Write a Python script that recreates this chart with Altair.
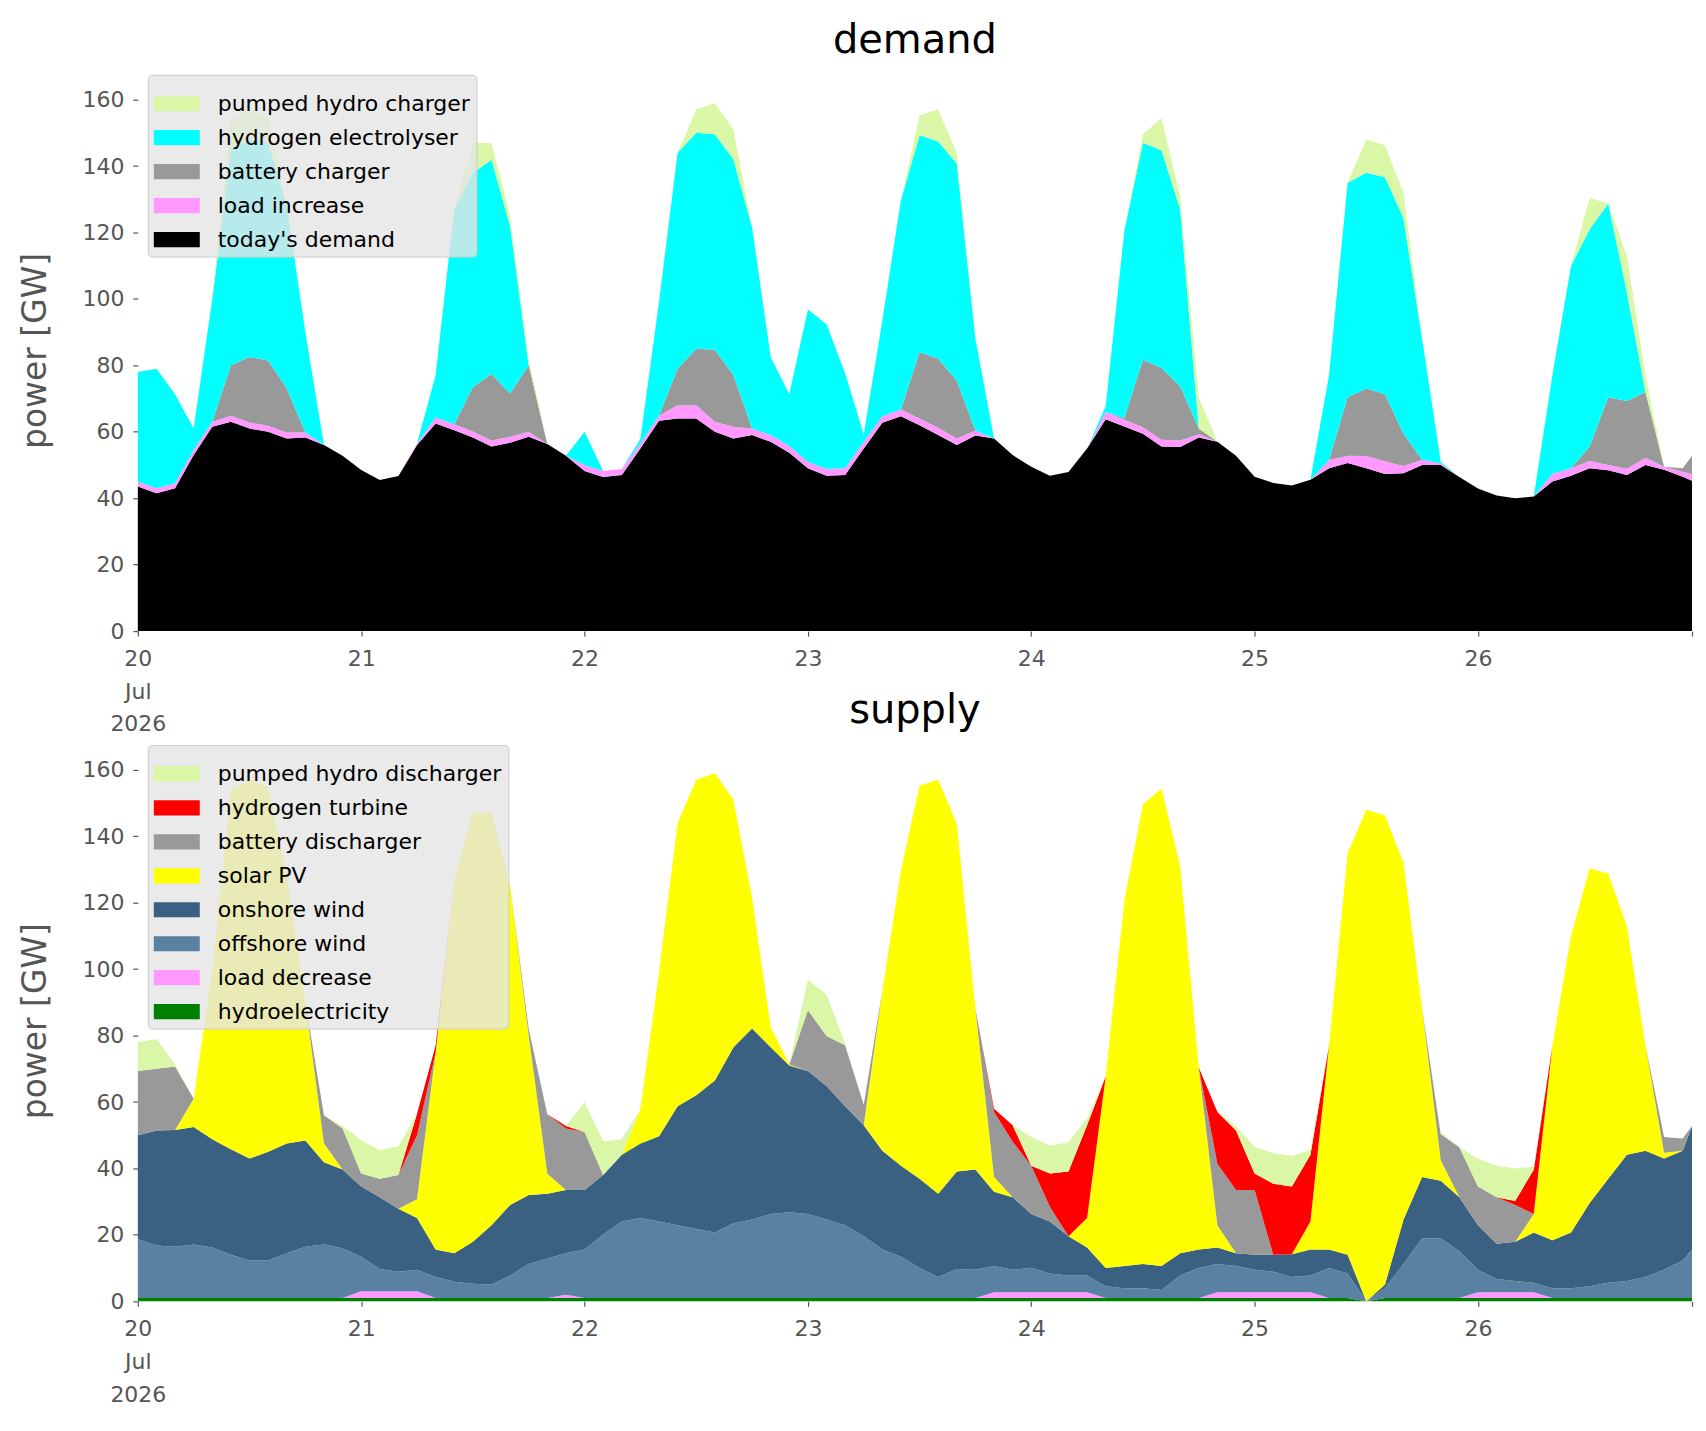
import altair as alt
import numpy as np
import pandas as pd

# ---- time axis: hours since 2026-07-20 00:00 (2-hourly samples) ----
HOURS = list(range(0, 167, 2)) + [167]

# ---- demand side (GW per layer), bottom -> top ----
todays_demand = [43.5, 41.5, 43, 53, 61.5, 63, 61, 60, 58, 58.3, 56, 52.8,
                 48.5, 45.5, 46.7, 56, 62.5, 60.5, 58.3, 55.6, 56.7, 58.5, 56.3, 52.8,
                 48.2, 46.4, 47, 55, 63.3, 64, 64, 60, 58, 59, 57, 53.7,
                 49, 46.8, 47, 55, 62.7, 64.7, 62, 59, 56, 58.9, 58, 53,
                 49.5, 46.8, 47.9, 55, 63.8, 61.6, 59.4, 55.6, 55.4, 58.3, 57, 52.8,
                 46.5, 44.6, 43.8, 45.6, 49, 50.6, 49, 47.3, 47.5, 50, 50, 46.4,
                 42.9, 40.8, 40, 40.5, 45, 46.8, 49, 48.4, 47, 50, 48.6, 46.5,
                 45.3]
load_increase = [1.5, 1.5, 1.5, 1.5, 1.5, 1.8, 1.8, 1.8, 1.8, 1.5, 0, 0,
                 0, 0, 0, 0.5, 1.8, 1.8, 1.8, 1.8, 1.8, 1.5, 0, 0,
                 1.8, 1.8, 1.8, 1.5, 1.5, 4, 4, 3, 3.5, 2, 2, 2,
                 2, 2, 2, 2, 2, 2, 2, 2.2, 2, 1.5, 0, 0,
                 0, 0, 0, 0, 2.2, 2, 2, 2, 2, 1, 0, 0,
                 0, 0, 0, 0, 2.5, 2.2, 3.7, 3.8, 2.2, 1.6, 0.5, 0,
                 0, 0, 0, 0, 2.4, 2.2, 2.2, 1.6, 1.9, 2.2, 0.9, 1.5,
                 2]
battery_charger = [0, 0, 0, 0, 0, 15.2, 19.7, 19.7, 13.2, 0, 0, 0,
                   0, 0, 0, 0, 0, 0, 13.4, 20, 13, 20, 0, 0,
                   0, 0, 0, 0, 0, 11, 17, 21.7, 15.5, 0, 0, 0,
                   0, 0, 0, 0, 0, 0, 20, 20.8, 17.4, 0, 0, 0,
                   0, 0, 0, 0, 0, 0.5, 20.3, 21.6, 16.3, 1.7, 0, 0,
                   0, 0, 0, 0, 0, 17.6, 20.3, 20.2, 9.7, 0, 0, 0,
                   0, 0, 0, 0, 0, 0, 4.4, 20.4, 20.4, 19.8, 0, 1,
                   5.5]
hydrogen_electrolyser = [33, 36, 26.8, 6.5, 37, 65, 65.5, 65.5, 55, 30.2, 0, 0,
                         0, 0, 0, 0, 12.7, 64.7, 64.5, 64.5, 50.5, 0, 0, 0,
                         10, 0, 0, 1.3, 34.2, 65, 65, 64.9, 65, 60.6, 23.5, 15.6,
                         45.8, 43.6, 28.6, 2.2, 28.8, 63.1, 65.3, 65.4, 65.4, 27.6, 0, 0,
                         0, 0, 0, 0, 1.7, 56.4, 65.3, 65.5, 53.3, 0, 0, 0,
                         0, 0, 0, 0, 25.5, 64.6, 65, 65.3, 64.9, 36.4, 0.5, 0,
                         0, 0, 0, 0, 29.6, 61, 65.4, 58.3, 32.7, 0, 0, 0,
                         0]
pumped_hydro_charger = [0, 0, 0, 0, 0, 9, 9, 8, 0, 0, 0, 0,
                        0, 0, 0, 0, 0, 0, 9, 5, 3, 2, 0, 0,
                        0, 0, 0, 0, 0, 0, 7, 9.4, 9, 0, 0, 0,
                        0, 0, 0, 0, 0, 0, 6, 9.6, 3, 0, 0, 0,
                        0, 0, 0, 0, 0, 0, 2.6, 9.7, 4, 9.4, 0, 0,
                        0, 0, 0, 0, 0, 0, 10, 9.7, 7.7, 0, 0, 0,
                        0, 0, 0, 0, 0, 0, 9.4, 0, 11, 5, 0, 0,
                        0]

# ---- supply side (GW per layer), bottom -> top ----
hydroelectricity = [1, 1, 1, 1, 1, 1, 1, 1, 1, 1, 1, 1,
                    1, 1, 1, 1, 1, 1, 1, 1, 1, 1, 1, 1,
                    1, 1, 1, 1, 1, 1, 1, 1, 1, 1, 1, 1,
                    1, 1, 1, 1, 1, 1, 1, 1, 1, 1, 1, 1,
                    1, 1, 1, 1, 1, 1, 1, 1, 1, 1, 1, 1,
                    1, 1, 1, 1, 1, 1, 0, 1, 1, 1, 1, 1,
                    1, 1, 1, 1, 1, 1, 1, 1, 1, 1, 1, 1,
                    1]
load_decrease = [0, 0, 0, 0, 0, 0, 0, 0, 0, 0, 0, 0,
                 2, 2, 2, 2, 0, 0, 0, 0, 0, 0, 0, 1,
                 0, 0, 0, 0, 0, 0, 0, 0, 0, 0, 0, 0,
                 0, 0, 0, 0, 0, 0, 0, 0, 0, 0, 1.7, 1.7,
                 1.7, 1.7, 1.7, 1.7, 0, 0, 0, 0, 0, 0, 1.7, 1.7,
                 1.7, 1.7, 1.7, 1.7, 0, 0, 0, 0, 0, 0, 0, 0,
                 1.7, 1.7, 1.7, 1.7, 0, 0, 0, 0, 0, 0, 0, 0,
                 0]
offshore_wind = [17.7, 15.8, 15.4, 16.1, 15.2, 13, 11.3, 11.3, 13.5, 15.4, 16.1, 15,
                 10.4, 6.7, 5.9, 6.5, 6.3, 4.9, 4.3, 4, 6.8, 10.2, 11.8, 12.5,
                 14.6, 19.1, 23, 24.1, 23, 21.9, 20.8, 19.7, 22.5, 23.6, 25.3, 25.8,
                 25.3, 23.6, 21.9, 18.6, 14.6, 12.4, 9, 6.3, 8.7, 8.5, 7.9, 6.8,
                 7.4, 5.7, 5.1, 5.1, 3.5, 2.9, 2.9, 2.4, 6.8, 9, 8.5, 7.9,
                 6.8, 6.2, 4.6, 5.1, 9, 7.4, 0, 3, 10.2, 18, 18, 14.1,
                 6.8, 4, 3.4, 2.9, 2.9, 2.9, 3.5, 4.6, 5.1, 6.3, 8.5, 11.3,
                 14.6]
onshore_wind = [31.3, 34.6, 35.2, 35.4, 32.6, 31.8, 30.7, 32.7, 33, 32, 24.8, 23.7,
                21.2, 21.6, 19, 15.6, 8.3, 8.6, 12.6, 17.9, 21.2, 20.8, 19.6, 19,
                17.9, 17.9, 20.1, 22.4, 25.7, 35.8, 40.2, 45.8, 53, 57.5, 50.2, 44.2,
                43, 40.2, 35.8, 33.4, 29.7, 27.4, 26.9, 25.1, 29.4, 30.2, 22.4, 21.8,
                16.2, 15.6, 11.8, 8.4, 5.5, 6.7, 7.3, 7.2, 6.7, 5.6, 5, 3.9,
                4.5, 5.1, 6.9, 7.8, 5.6, 5.6, 0, 1, 13.4, 18.4, 17.3, 16.2,
                13.4, 10.6, 11.8, 15.1, 14.5, 16.8, 25.1, 31.3, 38, 38, 33.5, 33,
                37.2]
solar_pv = [0, 0, 0, 8.5, 51.2, 108.2, 114, 110, 80.5, 41.6, 5.6, 0,
            0, 0, 0, 5.6, 59.4, 112.5, 129.1, 124, 96, 48, 6, 0,
            0, 0, 0, 10.3, 49.3, 85.3, 95, 92.5, 74.5, 39.5, 6, 0.3,
            0, 0, 0, 0, 48.2, 89, 118.4, 124.6, 104.7, 48.3, 4.4, 0,
            0, 0, 0, 8.9, 57.7, 109.9, 138.4, 143.8, 116.5, 54.8, 6.7, 0,
            0, 0, 0, 8.4, 61.4, 121, 148, 141.3, 107.4, 50.6, 6.2, 0,
            0, 0, 0, 5.6, 58.6, 89.3, 100.8, 91.8, 68.9, 31.7, 1.7, 0,
            0]
battery_discharger = [19.3, 18.6, 19.1, 0, 0, 0, 0, 0, 0, 0, 8.5, 12.3,
                      3.9, 5.6, 10.1, 19.3, 0, 0, 0, 0, 0, 2, 17.9, 18.5,
                      17.5, 0, 0, 0, 0, 0, 0, 0, 0, 0, 0, 0,
                      18.4, 15.1, 18.4, 6.2, 0, 0, 0, 0, 0, 0, 19.6, 16.7,
                      14.5, 4.5, 0, 0, 0, 0, 0, 0, 0, 0, 18.5, 19,
                      19.5, 0, 0, 0, 0, 0, 0, 0, 0, 0, 7.8, 15.1,
                      11.7, 14, 11.1, 0, 0, 0, 0, 0, 0, 0, 4.8, 3.7,
                      0]
hydrogen_turbine = [0, 0, 0, 0, 0, 0, 0, 0, 0, 0, 0, 0,
                    0, 0, 0, 6.5, 2, 0, 0, 0, 0, 0, 0, 0.8,
                    0, 0, 0, 0, 0, 0, 0, 0, 0, 0, 0, 0,
                    0, 0, 0, 0, 0, 0, 0, 0, 0, 0, 1, 5,
                    0, 10, 19.5, 27.9, 0, 0, 0, 0, 0, 0, 15.6, 17.9,
                    5, 21.4, 20.4, 20.1, 0, 0, 0, 0, 0, 0, 0, 0,
                    0, 0, 1.2, 13.4, 0, 0, 0, 0, 0, 0, 0, 0,
                    0]
pumped_hydro_discharger = [8.7, 9, 0.6, 0, 0, 0, 0, 0, 0, 0, 0, 0.8,
                           10, 8.6, 8.7, 0, 0, 0, 0, 0, 0, 0, 0, 0,
                           9, 10.2, 4.7, 0, 0, 0, 0, 0, 0, 0, 0, 0,
                           9.1, 12.5, 0.5, 0, 0, 0, 0, 0, 0, 0, 0, 0,
                           8.7, 8.3, 8.8, 2, 0, 0, 0, 0, 0, 0, 0, 1.4,
                           8, 9.2, 9.2, 1.5, 0, 0, 0, 0, 0, 0, 0.7, 0,
                           8.3, 9.5, 9.8, 0.8, 0, 0, 0, 0, 0, 0, 0, 0,
                           0]

DEMAND_LAYERS = [("today's demand", todays_demand), ("load increase", load_increase),
                 ("battery charger", battery_charger), ("hydrogen electrolyser", hydrogen_electrolyser),
                 ("pumped hydro charger", pumped_hydro_charger)]
SUPPLY_LAYERS = [("hydroelectricity", hydroelectricity), ("load decrease", load_decrease),
                 ("offshore wind", offshore_wind), ("onshore wind", onshore_wind),
                 ("solar PV", solar_pv), ("battery discharger", battery_discharger),
                 ("hydrogen turbine", hydrogen_turbine), ("pumped hydro discharger", pumped_hydro_discharger)]

DEMAND_LEGEND = ["pumped hydro charger", "hydrogen electrolyser", "battery charger", "load increase", "today's demand"]
DEMAND_COLORS = ["#d9f7a6", "#00ffff", "#999999", "#ff99ff", "#000000"]
SUPPLY_LEGEND = ["pumped hydro discharger", "hydrogen turbine", "battery discharger", "solar PV",
                 "onshore wind", "offshore wind", "load decrease", "hydroelectricity"]
SUPPLY_COLORS = ["#d9f7a6", "#ff0000", "#999999", "#ffff00", "#3b6182", "#5b81a2", "#ff99ff", "#008000"]

start = pd.Timestamp("2026-07-20", tz="UTC")
times = [(start + pd.Timedelta(hours=h)).strftime("%Y-%m-%dT%H:%M:%SZ") for h in HOURS]
def ms(h):
    return int((start + pd.Timedelta(hours=h)).timestamp() * 1000)
TICKS = [ms(h) for h in [0, 24, 48, 72, 96, 120, 144, 167]]
DOMAIN = [ms(0), ms(167)]


def build(layers):
    rows = []
    base = np.zeros(len(HOURS))
    for name, vals in layers:
        top = base + np.array(vals, dtype=float)
        for t, lo, hi in zip(times, base, top):
            rows.append({"t": t, "series": name, "lo": float(lo), "hi": float(hi)})
        base = top
    return pd.DataFrame(rows)


FONT = "DejaVu Sans"
xaxis = alt.Axis(values=TICKS, title=None, grid=False, domain=False,
                 labelExpr="utchours(datum.value) != 0 ? '' : (utcdate(datum.value) == 20 ? ['20', 'Jul', '2026'] : utcFormat(datum.value, '%d'))",
                 labelFont=FONT, labelFontSize=22, labelColor="#555555", labelAngle=0,
                 labelFlush=False, labelOverlap=False, labelLineHeight=33, labelPadding=12,
                 tickColor="#555555", tickSize=5, tickWidth=1.2)
yaxis = alt.Axis(values=[0, 20, 40, 60, 80, 100, 120, 140, 160], title="power [GW]", grid=False, domain=False,
                 labelFont=FONT, labelFontSize=22, labelColor="#555555", labelPadding=9,
                 tickColor="#555555", tickSize=5, tickWidth=1.2,
                 titleFont=FONT, titleFontSize=33, titleFontWeight="normal", titleColor="#555555", titlePadding=29)


def panel(layers, names, colors, title, field):
    df = build(layers).rename(columns={"series": field})
    legend = alt.Legend(orient="none", legendX=10, legendY=5, title=None,
                        fillColor="rgba(229,229,229,0.8)", strokeColor="#cccccc", cornerRadius=4, padding=6,
                        symbolType="M-1,-0.33L1,-0.33L1,0.33L-1,0.33Z", symbolSize=2116,
                        symbolStrokeWidth=0, symbolOpacity=1,
                        labelFont=FONT, labelFontSize=22, labelColor="#000000", labelOffset=18,
                        rowPadding=0, labelLimit=600)
    return alt.Chart(df, title=alt.TitleParams(title, font=FONT, fontSize=40, fontWeight="normal",
                                               color="#000000", offset=9)).mark_area(
        interpolate="linear", opacity=1
    ).encode(
        x=alt.X("t:T", scale=alt.Scale(type="utc", domain=DOMAIN), axis=xaxis),
        y=alt.Y("hi:Q", scale=alt.Scale(domain=[0, 169], nice=False), axis=yaxis),
        y2="lo:Q",
        color=alt.Color(f"{field}:N", scale=alt.Scale(domain=names, range=colors), legend=legend),
    ).properties(width=1556, height=562)


top = panel(DEMAND_LAYERS, DEMAND_LEGEND, DEMAND_COLORS, "demand", "demand_series")
bottom = panel(SUPPLY_LAYERS, SUPPLY_LEGEND, SUPPLY_COLORS, "supply", "supply_series")

chart = alt.vconcat(top, bottom, spacing=109, bounds="flush").resolve_scale(
    color="independent"
).resolve_legend(color="independent").properties(
    padding={"left": 12, "top": 12, "right": 5, "bottom": 5}, background="white"
).configure_view(stroke=None)

chart.save("out.html", embed_options={"renderer": "svg", "actions": False})
